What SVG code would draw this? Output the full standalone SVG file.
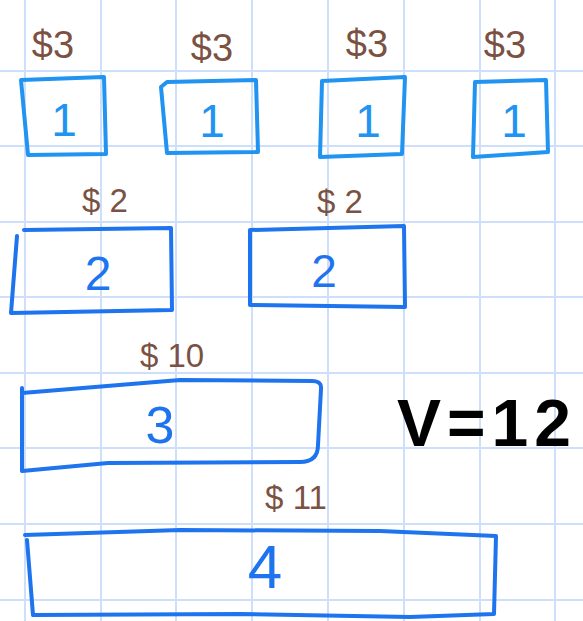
<svg xmlns="http://www.w3.org/2000/svg" width="583" height="621" viewBox="0 0 583 621">
<style>
.grid line{stroke:#cddffa;stroke-width:2}
.box{fill:none;stroke:#2193f0;stroke-width:4;stroke-linejoin:round;stroke-linecap:round}
.box2{fill:none;stroke:#1e74ee;stroke-width:4;stroke-linejoin:round;stroke-linecap:round}
.cost{font-family:"Liberation Sans",Arial,sans-serif;fill:#7a5142;text-anchor:middle}
.lbl{font-family:"Liberation Sans",Arial,sans-serif;fill:#2193f0;text-anchor:middle}
.lbl2{font-family:"Liberation Sans",Arial,sans-serif;fill:#1e74ee;text-anchor:middle}
.big{font-family:"Liberation Sans",Arial,sans-serif;fill:#000000;text-anchor:middle;font-weight:bold}
</style>
<rect width="583" height="621" fill="#ffffff"/>
<g class="grid">
<line x1="25" y1="0" x2="25" y2="621"/><line x1="101" y1="0" x2="101" y2="621"/><line x1="176" y1="0" x2="176" y2="621"/><line x1="252" y1="0" x2="252" y2="621"/><line x1="328" y1="0" x2="328" y2="621"/><line x1="404" y1="0" x2="404" y2="621"/><line x1="480" y1="0" x2="480" y2="621"/><line x1="555" y1="0" x2="555" y2="621"/>
<line x1="0" y1="71" x2="583" y2="71"/><line x1="0" y1="146" x2="583" y2="146"/><line x1="0" y1="222" x2="583" y2="222"/><line x1="0" y1="297" x2="583" y2="297"/><line x1="0" y1="373" x2="583" y2="373"/><line x1="0" y1="448" x2="583" y2="448"/><line x1="0" y1="524" x2="583" y2="524"/><line x1="0" y1="600" x2="583" y2="600"/>
</g>
<g id="item1a">
<path class="box" d="M21,80 L104,77 L106,154 L28,155 Z"/>
<text class="cost" x="53" y="58" font-size="38">$3</text>
<text class="lbl" x="64" y="136" font-size="46">1</text>
</g>
<g id="item1b">
<path class="box" d="M161,87 L167,82 L256,80 L258,152 L167,153 Z"/>
<text class="cost" x="212" y="61" font-size="38">$3</text>
<text class="lbl" x="212" y="137" font-size="46" font-family="DejaVu Sans">1</text>
</g>
<g id="item1c">
<path class="box" d="M322,81 L405,77 L402,154 L320,157 Z"/>
<text class="cost" x="367" y="57" font-size="38">$3</text>
<text class="lbl" x="368" y="137" font-size="46" font-family="DejaVu Sans">1</text>
</g>
<g id="item1d">
<path class="box" d="M475,82 L546,80 L548,152 L473,157 Z"/>
<text class="cost" x="505" y="58" font-size="38">$3</text>
<text class="lbl" x="514" y="137" font-size="46" font-family="DejaVu Sans">1</text>
</g>
<g id="item2a">
<path class="box2" d="M24,230 L171,228 L172,310 L11,313 L17,236"/>
<text class="cost" x="105" y="212" font-size="33">$ 2</text>
<text class="lbl2" x="98" y="290" font-size="48">2</text>
</g>
<g id="item2b">
<path class="box2" d="M250,230 L404,226 L405,307 L250,305 Z"/>
<text class="cost" x="340" y="213" font-size="33">$ 2</text>
<text class="lbl2" x="324" y="287" font-size="46">2</text>
</g>
<g id="item3">
<path class="box2" d="M22,388 L22,471 L108,463 L300,462 Q318,462 318,445 L321,389 Q322,381 312,381 L180,380 L22,393"/>
<text class="cost" x="172" y="367" font-size="33">$ 10</text>
<text class="lbl2" x="160" y="443" font-size="52">3</text>
</g>
<g id="item4">
<path class="box2" d="M25,535 L180,530 L380,531 L496,536 L494,614 L410,617 L240,614 L33,615 L27,540"/>
<text class="cost" x="296" y="509" font-size="33">$ 11</text>
<text class="lbl2" x="265" y="588" font-size="62">4</text>
</g>
<g id="result">
<text class="big" x="487" y="446" font-size="66" letter-spacing="6">V=12</text>
</g>
</svg>
